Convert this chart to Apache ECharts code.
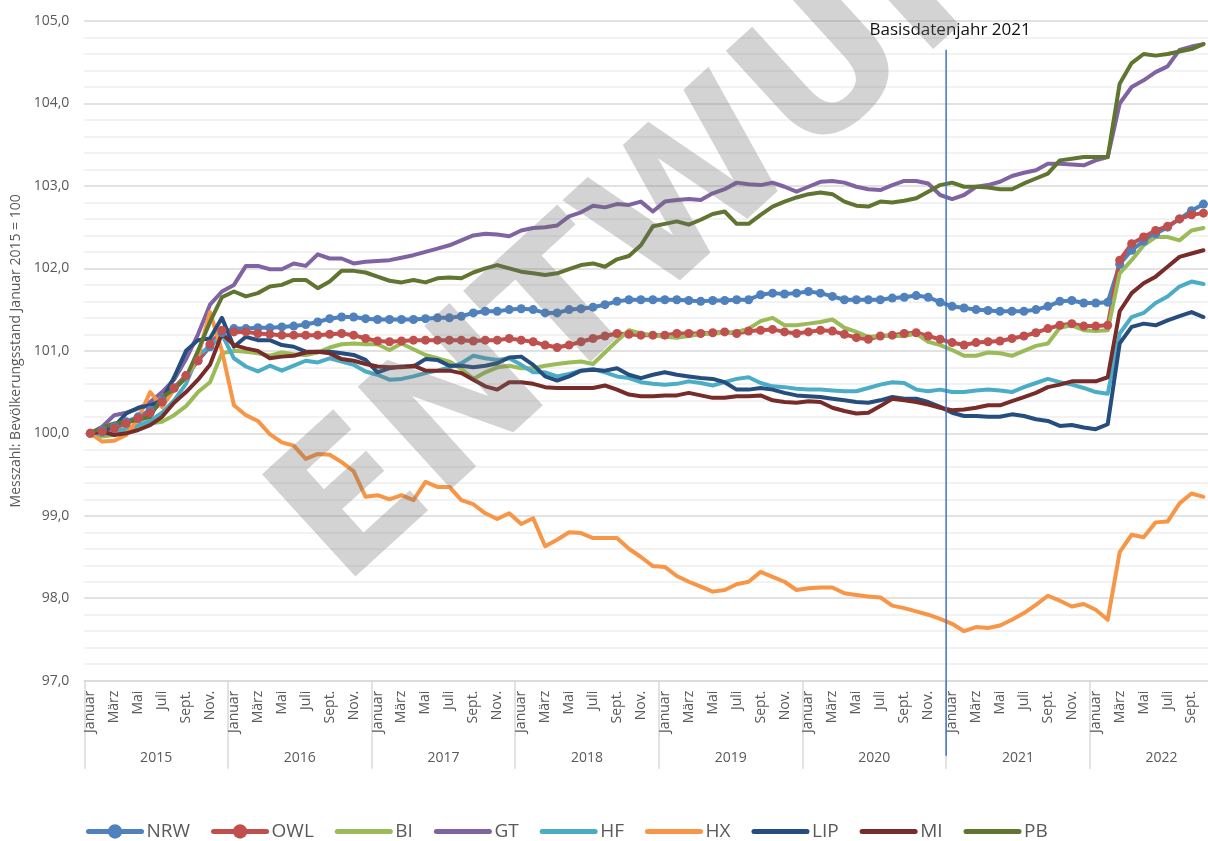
<!DOCTYPE html>
<html>
<head>
<meta charset="utf-8">
<script src="https://cdn.jsdelivr.net/npm/echarts@6/dist/echarts.min.js"></script>
<style>
html,body{margin:0;padding:0;background:#ffffff;}
#chart{width:1208px;height:841px;}
</style>
</head>
<body>
<div id="chart"></div>
<script>
// ---------- data ----------
const years = ['2015','2016','2017','2018','2019','2020','2021','2022'];
const monthNames = ['Januar','Feb.','März','April','Mai','Juni','Juli','Aug.','Sept.','Okt.','Nov.','Dez.'];
const yTickValues = [97,98,99,100,101,102,103,104,105];
const baseYearLabel = 'Basisdatenjahr 2021';
const baseYearIndex = 72;      // Januar 2021
const baseYearTop = 104.65;
const axisName = 'Messzahl: Bevölkerungsstand Januar 2015 = 100';
const watermark = 'ENTWURF';

const NRW = [100.00,100.04,100.08,100.14,100.20,100.28,100.40,100.55,100.70,100.88,101.05,101.22,
 101.27,101.27,101.28,101.28,101.29,101.30,101.32,101.35,101.39,101.41,101.41,101.39,
 101.38,101.38,101.38,101.38,101.39,101.40,101.40,101.42,101.46,101.48,101.48,101.50,
 101.51,101.50,101.46,101.46,101.50,101.51,101.53,101.56,101.60,101.62,101.62,101.62,
 101.62,101.62,101.61,101.60,101.61,101.61,101.62,101.62,101.68,101.70,101.69,101.70,
 101.72,101.70,101.66,101.62,101.62,101.62,101.62,101.64,101.65,101.67,101.65,101.59,
 101.54,101.52,101.50,101.49,101.48,101.48,101.48,101.50,101.54,101.60,101.61,101.58,
 101.58,101.59,102.05,102.22,102.33,102.42,102.50,102.60,102.70,102.78];
const OWL = [100.00,100.02,100.06,100.12,100.18,100.25,100.38,100.55,100.70,100.88,101.08,101.25,
 101.23,101.23,101.21,101.20,101.19,101.19,101.19,101.19,101.20,101.21,101.19,101.15,
 101.12,101.11,101.12,101.13,101.13,101.13,101.13,101.13,101.12,101.13,101.13,101.15,
 101.13,101.11,101.07,101.04,101.07,101.11,101.15,101.18,101.21,101.20,101.19,101.19,
 101.19,101.21,101.21,101.21,101.22,101.23,101.21,101.24,101.25,101.26,101.23,101.21,
 101.23,101.25,101.24,101.20,101.16,101.14,101.18,101.19,101.21,101.22,101.18,101.14,
 101.10,101.07,101.10,101.11,101.12,101.15,101.18,101.22,101.27,101.31,101.33,101.30,
 101.30,101.31,102.10,102.30,102.38,102.46,102.51,102.60,102.65,102.67];
const BI = [100.00,99.96,99.98,100.03,100.08,100.12,100.14,100.22,100.33,100.50,100.62,100.97,
 101.00,100.99,100.97,100.94,100.98,100.96,100.95,100.98,101.04,101.08,101.09,101.08,
 101.08,101.01,101.09,101.02,100.95,100.91,100.87,100.78,100.66,100.74,100.80,100.82,
 100.79,100.79,100.82,100.84,100.86,100.87,100.84,100.98,101.12,101.25,101.21,101.19,
 101.17,101.16,101.18,101.20,101.21,101.22,101.23,101.27,101.36,101.40,101.31,101.31,
 101.33,101.35,101.38,101.28,101.23,101.17,101.18,101.18,101.18,101.21,101.11,101.07,
 101.01,100.94,100.94,100.98,100.97,100.94,101.00,101.06,101.09,101.28,101.31,101.25,
 101.24,101.25,101.94,102.10,102.28,102.38,102.38,102.34,102.46,102.49];
const GT = [100.00,100.08,100.22,100.25,100.30,100.38,100.50,100.65,100.90,101.20,101.56,101.72,
 101.80,102.03,102.03,101.99,101.99,102.06,102.03,102.17,102.12,102.12,102.06,102.08,
 102.09,102.10,102.13,102.16,102.20,102.24,102.28,102.34,102.40,102.42,102.41,102.39,
 102.46,102.49,102.50,102.52,102.63,102.68,102.76,102.74,102.78,102.77,102.81,102.69,
 102.81,102.83,102.84,102.83,102.91,102.96,103.04,103.02,103.01,103.04,102.99,102.93,
 102.99,103.05,103.06,103.04,102.99,102.96,102.95,103.01,103.06,103.06,103.03,102.89,
 102.84,102.89,102.99,103.01,103.05,103.12,103.16,103.19,103.27,103.27,103.26,103.25,
 103.31,103.35,104.00,104.20,104.28,104.38,104.45,104.65,104.69,104.72];
const HF = [100.00,99.98,100.02,100.06,100.10,100.15,100.25,100.40,100.60,100.95,101.05,101.20,
 100.91,100.81,100.75,100.82,100.76,100.82,100.88,100.86,100.91,100.87,100.83,100.75,
 100.71,100.65,100.66,100.69,100.73,100.76,100.80,100.85,100.94,100.91,100.89,100.91,
 100.83,100.74,100.74,100.69,100.72,100.76,100.78,100.74,100.69,100.67,100.62,100.60,
 100.59,100.60,100.63,100.61,100.58,100.62,100.66,100.68,100.61,100.57,100.56,100.54,
 100.53,100.53,100.52,100.51,100.51,100.55,100.59,100.62,100.61,100.53,100.51,100.53,
 100.50,100.50,100.52,100.53,100.52,100.50,100.56,100.61,100.66,100.62,100.59,100.55,
 100.50,100.48,101.21,101.41,101.46,101.58,101.66,101.78,101.84,101.81];
const HX = [100.00,99.90,99.91,99.98,100.18,100.50,100.32,100.53,100.68,100.93,101.47,101.00,
 100.34,100.22,100.15,99.99,99.89,99.85,99.69,99.75,99.74,99.65,99.54,99.23,
 99.25,99.20,99.25,99.19,99.41,99.35,99.35,99.19,99.14,99.03,98.96,99.03,
 98.90,98.97,98.63,98.71,98.80,98.79,98.73,98.73,98.73,98.60,98.50,98.39,
 98.38,98.27,98.20,98.14,98.08,98.10,98.17,98.20,98.32,98.26,98.20,98.10,
 98.12,98.13,98.13,98.06,98.04,98.02,98.01,97.91,97.88,97.84,97.80,97.75,
 97.69,97.60,97.65,97.64,97.67,97.74,97.82,97.92,98.03,97.97,97.90,97.93,
 97.86,97.74,98.56,98.77,98.74,98.92,98.93,99.15,99.27,99.23];
const LIP = [100.00,100.04,100.08,100.24,100.31,100.34,100.40,100.68,101.00,101.13,101.15,101.40,
 101.05,101.17,101.13,101.13,101.07,101.05,100.99,100.99,100.99,100.97,100.95,100.89,
 100.74,100.79,100.81,100.81,100.90,100.89,100.82,100.82,100.80,100.82,100.85,100.92,
 100.93,100.83,100.69,100.64,100.69,100.76,100.77,100.76,100.79,100.71,100.67,100.71,
 100.74,100.71,100.69,100.67,100.66,100.62,100.53,100.53,100.55,100.53,100.49,100.46,
 100.45,100.44,100.42,100.40,100.38,100.37,100.40,100.44,100.42,100.42,100.38,100.32,
 100.25,100.21,100.21,100.20,100.20,100.23,100.21,100.17,100.15,100.09,100.10,100.07,
 100.05,100.11,101.09,101.29,101.33,101.31,101.37,101.42,101.47,101.41];
const MI = [100.00,100.02,99.98,100.00,100.04,100.10,100.20,100.37,100.50,100.65,100.83,101.21,
 101.07,101.03,101.00,100.91,100.93,100.94,100.98,100.99,100.97,100.90,100.88,100.84,
 100.81,100.80,100.80,100.82,100.76,100.76,100.76,100.73,100.65,100.57,100.53,100.62,
 100.62,100.60,100.56,100.55,100.55,100.55,100.55,100.58,100.53,100.47,100.45,100.45,
 100.46,100.46,100.49,100.46,100.43,100.43,100.45,100.45,100.46,100.40,100.38,100.37,
 100.39,100.38,100.31,100.27,100.24,100.25,100.33,100.42,100.40,100.38,100.35,100.31,
 100.28,100.29,100.31,100.34,100.34,100.39,100.44,100.49,100.56,100.59,100.63,100.63,
 100.63,100.68,101.48,101.70,101.82,101.90,102.02,102.14,102.18,102.22];
const PB = [100.00,100.07,100.12,100.14,100.16,100.20,100.44,100.53,100.68,101.00,101.35,101.65,
 101.72,101.66,101.70,101.78,101.80,101.86,101.86,101.76,101.84,101.97,101.97,101.95,
 101.90,101.85,101.83,101.86,101.83,101.88,101.89,101.88,101.95,102.00,102.04,102.00,
 101.96,101.94,101.92,101.94,101.99,102.04,102.06,102.02,102.11,102.15,102.28,102.51,
 102.54,102.57,102.53,102.59,102.66,102.69,102.54,102.54,102.65,102.75,102.81,102.86,
 102.90,102.92,102.90,102.81,102.76,102.75,102.81,102.80,102.82,102.85,102.93,103.01,
 103.04,102.99,102.99,102.98,102.96,102.96,103.03,103.09,103.15,103.31,103.33,103.35,
 103.35,103.35,104.24,104.49,104.60,104.58,104.60,104.63,104.66,104.72];

const seriesNames = ['NRW','OWL','BI','GT','HF','HX','LIP','MI','PB'];
const seriesValues = [NRW,OWL,BI,GT,HF,HX,LIP,MI,PB];
const seriesColors = ['#4f81bd','#c0504d','#9bbb59','#8064a2','#4bacc6','#f79646','#254e7e','#772c2a','#5f7530'];
const withMarkers = ['NRW','OWL'];

// category axis: every month of 2015..2022 (the chart is cut after Oct 2022)
const categories = [];
years.forEach(y => monthNames.forEach((m, i) => categories.push(y + '|' + i)));

// ---------- chart ----------
const FONT = 'Open Sans';
const chart = echarts.init(document.getElementById('chart'), null, {renderer: 'canvas'});

const lineSeries = seriesNames.map((name, k) => {
  const marked = withMarkers.includes(name);
  return {
    name: name,
    type: 'line',
    data: seriesValues[k],
    xAxisIndex: 0,
    yAxisIndex: 0,
    symbol: marked ? 'circle' : 'none',
    symbolSize: 9,
    showSymbol: marked,
    showAllSymbol: true,
    smooth: false,
    lineStyle: {width: 4, color: seriesColors[k], cap: 'round', join: 'round'},
    itemStyle: {color: seriesColors[k]},
    emphasis: {disabled: true},
    z: 2
  };
});

const baseYearSeries = {
  name: '_base',
  type: 'custom',
  xAxisIndex: 0,
  yAxisIndex: 0,
  silent: true,
  clip: false,
  z: 4,
  data: [[baseYearIndex, baseYearTop]],
  renderItem: function (params, api) {
    const band = api.size([1, 0])[0];
    const top = api.coord([api.value(0), api.value(1)]);
    const bottom = api.coord([api.value(0), yTickValues[0]]);
    const x = top[0] - band / 2;
    return {
      type: 'group',
      children: [
        {type: 'line', shape: {x1: x, y1: top[1], x2: x, y2: bottom[1] + 75},
         style: {stroke: '#4472c4', lineWidth: 1.5}},
        {type: 'text', style: {text: baseYearLabel, x: x + 4, y: top[1] - 20,
         align: 'center', verticalAlign: 'middle', fontSize: 17, fontFamily: FONT, fill: '#111111'}}
      ]
    };
  }
};

const legendData = seriesNames.map(n => withMarkers.includes(n)
  ? {name: n}
  : {name: n, itemStyle: {opacity: 0}});

const option = {
  animation: false,
  backgroundColor: '#ffffff',
  textStyle: {fontFamily: FONT},
  grid: {left: 84.3, top: 21, width: 1149.1, height: 659.7,
         containLabel: false, outerBoundsMode: 'none'},
  legend: {
    data: legendData,
    left: 81,
    top: 817,
    orient: 'horizontal',
    itemWidth: 53,
    itemHeight: 18,
    itemGap: 21,
    lineStyle: {width: 5},
    textStyle: {fontSize: 19, color: '#595959', fontFamily: FONT},
    selectedMode: false
  },
  xAxis: [
    {
      type: 'category',
      data: categories,
      boundaryGap: true,
      position: 'bottom',
      axisLine: {show: true, lineStyle: {color: '#d9d9d9', width: 1.5}},
      axisTick: {show: false},
      axisLabel: {
        interval: 1, rotate: 90, margin: 10, fontSize: 14, color: '#595959', fontFamily: FONT,
        formatter: v => monthNames[+v.split('|')[1]]
      },
      splitLine: {show: false}
    },
    {
      type: 'category',
      data: categories,
      boundaryGap: true,
      position: 'bottom',
      axisLine: {show: false},
      axisTick: {show: true, interval: (i) => i % 12 === 0, length: 88,
                 lineStyle: {color: '#d9d9d9', width: 1.5}},
      axisLabel: {
        interval: (i) => i % 12 === 5, margin: 70, fontSize: 14, color: '#595959', fontFamily: FONT,
        padding: [0, 0, 0, 12],
        formatter: v => v.split('|')[0]
      },
      splitLine: {show: false}
    }
  ],
  yAxis: {
    type: 'value',
    min: yTickValues[0],
    max: yTickValues[yTickValues.length - 1],
    interval: 1,
    name: axisName,
    nameLocation: 'middle',
    nameGap: 60,
    nameTextStyle: {fontSize: 14, color: '#595959', fontFamily: FONT},
    axisLine: {show: false},
    axisTick: {show: false},
    axisLabel: {fontSize: 14, color: '#595959', margin: 15, fontFamily: FONT,
                formatter: v => v.toFixed(1).replace('.', ',')},
    splitLine: {lineStyle: {color: '#d9d9d9', width: 1.5}},
    minorTick: {show: false, splitNumber: 5},
    minorSplitLine: {show: true, lineStyle: {color: '#eeeeee', width: 1.5}}
  },
  graphic: [
    {
      type: 'text',
      x: 700, y: 195,
      rotation: 0.74,
      silent: true,
      z: 100,
      style: {
        text: watermark, fontSize: 190, fontWeight: 'bold', fontFamily: 'DejaVu Sans',
        fill: 'rgba(110,110,110,0.3)', align: 'center', verticalAlign: 'middle'
      }
    }
  ],
  series: lineSeries.concat([baseYearSeries])
};

chart.setOption(option);
</script>
</body>
</html>
